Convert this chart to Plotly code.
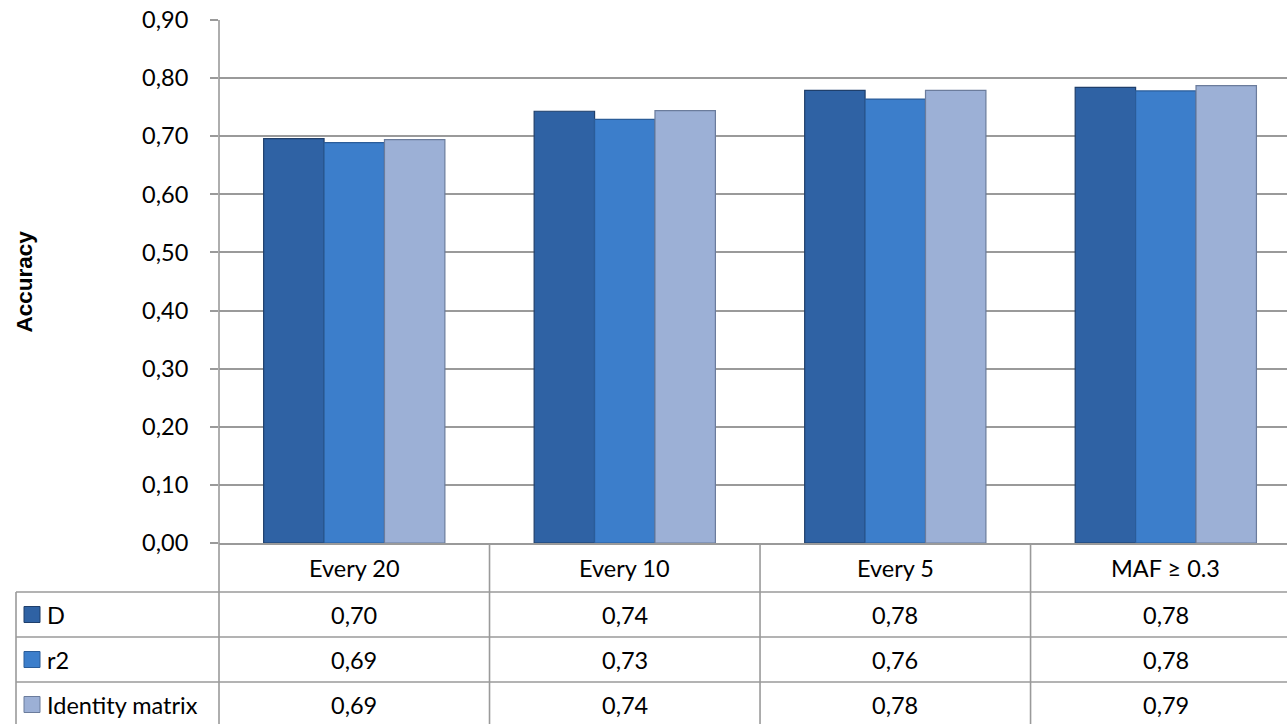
import plotly.graph_objects as go

categories = ["Every 20", "Every 10", "Every 5", "MAF ≥ 0.3"]
series_names = ["D", "r2", "Identity matrix"]
d_vals = [0.696, 0.743, 0.779, 0.784]
r2_vals = [0.689, 0.729, 0.764, 0.778]
id_vals = [0.694, 0.744, 0.779, 0.787]
y_ticks = [0.0, 0.1, 0.2, 0.3, 0.4, 0.5, 0.6, 0.7, 0.8, 0.9]

fill_colors = ["#2F62A4", "#3C7ECB", "#9CB0D6"]
line_colors = ["#1F3F6B", "#2A5C99", "#6B7C9C"]

W, H = 1287, 724
ML, MR, MT, MB = 219, 0, 20, 181
PW = W - ML - MR
PH = H - MT - MB
FONT = "Lato"
FS = 23.5
GRID = "#9A9A9A"


def py(px_below):
    # pixel distance below the x axis -> paper y
    return -px_below / PH


def px(xpix):
    return (xpix - ML) / PW


fig = go.Figure()
all_vals = [d_vals, r2_vals, id_vals]
for name, vals, fc, lc in zip(series_names, all_vals, fill_colors, line_colors):
    fig.add_trace(go.Bar(
        x=categories, y=vals, name=name,
        marker=dict(color=fc, line=dict(color=lc, width=1.2)),
        showlegend=False,
    ))

header_h = 49
row_h = 45
n_rows = len(series_names)
table_bottom = header_h + row_h * n_rows + 5

shapes = []
line_style = dict(color=GRID, width=1.6)
shapes.append(dict(type="line", xref="paper", yref="paper", x0=0, x1=0,
                   y0=1, y1=py(table_bottom), line=line_style, layer="above"))
for i in range(len(categories) - 1):
    shapes.append(dict(type="line", xref="x", yref="paper", x0=i + 0.5, x1=i + 0.5,
                       y0=0, y1=py(table_bottom), line=line_style))
shapes.append(dict(type="line", xref="paper", yref="paper", x0=px(16), x1=px(16),
                   y0=py(header_h), y1=py(table_bottom), line=line_style))
for r in range(n_rows):
    yy = py(header_h + r * row_h)
    shapes.append(dict(type="line", xref="paper", yref="paper", x0=px(16), x1=1,
                       y0=yy, y1=yy, line=line_style))

annotations = []
for c in categories:
    annotations.append(dict(x=c, xref="x", y=py(header_h / 2), yref="paper",
                            text=c, showarrow=False, xanchor="center", yanchor="middle",
                            font=dict(family=FONT, size=FS, color="#000000")))
for r, (name, vals, fc, lc) in enumerate(zip(series_names, all_vals, fill_colors, line_colors)):
    yc = py(header_h + r * row_h + row_h / 2)
    shapes.append(dict(type="rect", xref="paper", yref="paper",
                       x0=px(24), x1=px(40), y0=yc - 8 / PH, y1=yc + 8 / PH,
                       fillcolor=fc, line=dict(color=lc, width=1)))
    annotations.append(dict(x=px(45), xref="paper", y=yc, yref="paper", text=name,
                            showarrow=False, xanchor="left", yanchor="middle",
                            font=dict(family=FONT, size=FS, color="#000000")))
    for c, v in zip(categories, vals):
        annotations.append(dict(x=c, xref="x", y=yc, yref="paper",
                                text=f"{v:.2f}".replace(".", ","), showarrow=False,
                                xanchor="center", yanchor="middle",
                                font=dict(family=FONT, size=FS, color="#000000")))

annotations.append(dict(x=px(24), xref="paper", y=0.5, yref="paper", text="<b>Accuracy</b>",
                        textangle=-90, showarrow=False, xanchor="center", yanchor="middle",
                        font=dict(family="Liberation Sans", size=22.5, color="#000000")))

fig.update_layout(
    width=W, height=H,
    margin=dict(l=ML, r=MR, t=MT, b=MB, pad=0),
    paper_bgcolor="white", plot_bgcolor="white",
    barmode="group", bargap=0.33, bargroupgap=0.0,
    separators=", ",
    shapes=shapes, annotations=annotations,
    xaxis=dict(type="category", range=[-0.5, 3.448], showticklabels=False,
               showgrid=False, zeroline=False, showline=True, linecolor=GRID, linewidth=1.6,
               ticks=""),
    yaxis=dict(range=[0, 0.9], tickvals=y_ticks, tickformat=".2f",
               showgrid=True, gridcolor=GRID, gridwidth=1.6,
               showline=False, zeroline=False,
               ticks="outside", ticklen=8, tickcolor=GRID, tickwidth=1.6,
               ticklabelstandoff=17,
               tickfont=dict(family=FONT, size=FS, color="#000000")),
)

fig.write_html("out.html")
